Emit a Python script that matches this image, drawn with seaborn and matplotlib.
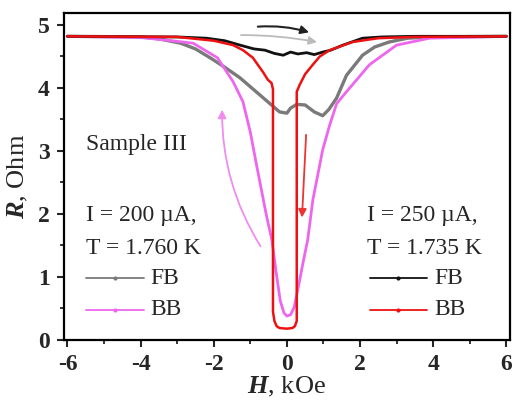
import numpy as np
import pandas as pd
import seaborn as sns
import matplotlib.pyplot as plt
from matplotlib.ticker import MultipleLocator

# ==================== data ====================
# I = 200 uA, T = 1.760 K, forward branch (gray)
h_fb200 = [-6, -4, -3.5, -2.9, -2.5, -2.1, -1.7, -1.28, -0.74, -0.4, -0.2, 0.0, 0.1, 0.27,
           0.5, 0.75, 0.98, 1.15, 1.36, 1.63, 2.07, 2.4, 2.8, 3.3, 4, 6]
r_fb200 = [4.82, 4.81, 4.78, 4.71, 4.62, 4.48, 4.33, 4.16, 3.89, 3.72, 3.62, 3.6, 3.68, 3.74,
           3.73, 3.62, 3.56, 3.66, 3.84, 4.2, 4.52, 4.65, 4.73, 4.79, 4.81, 4.82]

# I = 200 uA, back branch (magenta)
h_bb200 = [-6, -4, -3.3, -2.56, -1.9, -1.47, -1.2, -1.0, -0.82, -0.55, -0.41, -0.3, -0.18, -0.08, 0.0,
           0.1, 0.2, 0.3, 0.45, 0.57, 0.71, 0.98, 1.17, 1.36, 1.63, 2.26, 3.0, 3.9, 6]
r_bb200 = [4.82, 4.8, 4.76, 4.71, 4.48, 4.1, 3.78, 3.3, 2.75, 1.95, 1.59, 1.1, 0.62, 0.43, 0.38,
           0.4, 0.52, 0.8, 1.25, 1.59, 2.22, 3.02, 3.41, 3.75, 3.94, 4.37, 4.68, 4.79, 4.82]

# I = 250 uA, T = 1.735 K, forward branch (black)
h_fb250 = [-6, -3, -2.2, -1.7, -1.28, -0.9, -0.6, -0.35, -0.1, 0.1, 0.3, 0.54, 0.75, 0.98,
           1.2, 1.53, 2.07, 2.6, 3.5, 6]
r_fb250 = [4.82, 4.81, 4.79, 4.75, 4.68, 4.62, 4.6, 4.55, 4.52, 4.57, 4.54, 4.56, 4.53, 4.57,
           4.6, 4.68, 4.79, 4.81, 4.82, 4.82]

# I = 250 uA, back branch (red) -- hysteretic jumps near zero field
h_bb250 = [-6, -3, -2.0, -1.47, -1.2, -0.93, -0.65, -0.52, -0.42, -0.38, -0.38, -0.34, -0.28,
           -0.2, 0.0, 0.15, 0.22, 0.27, 0.27, 0.35, 0.5, 0.71, 0.9, 1.17, 1.8, 2.5, 3.5, 6]
r_bb250 = [4.82, 4.81, 4.75, 4.68, 4.6, 4.48, 4.25, 4.13, 4.08, 3.98, 0.45, 0.3, 0.22,
           0.19, 0.18, 0.19, 0.22, 0.3, 3.94, 4.05, 4.22, 4.37, 4.5, 4.6, 4.73, 4.79, 4.81, 4.82]

curves = [
    (h_fb200, r_fb200, "#7a7a7a", 2.4),
    (h_bb200, r_bb200, "#ee66ee", 2.0),
    (h_fb250, r_fb250, "#111111", 2.0),
    (h_bb250, r_bb250, "#ee1111", 1.8),
]

# ==================== style ====================
sns.set_style("ticks")
plt.rcParams['font.family'] = ['Liberation Serif', 'DejaVu Serif']
plt.rcParams['mathtext.fontset'] = 'custom'
plt.rcParams['mathtext.rm'] = 'Liberation Serif'
plt.rcParams['mathtext.it'] = 'Liberation Serif:italic'
plt.rcParams['mathtext.bf'] = 'Liberation Serif:bold'
plt.rcParams['mathtext.bfit'] = 'Liberation Serif:italic:bold'
plt.rcParams['axes.unicode_minus'] = False

fig = plt.figure(figsize=(5.23, 4.0), dpi=100)
ax = fig.add_axes([0.122, 0.15, 0.853, 0.8175])

for h, r, c, lw in curves:
    df = pd.DataFrame({"H": h, "R": r})
    sns.lineplot(data=df, x="H", y="R", sort=False, estimator=None,
                 color=c, lw=lw, ax=ax)

# arrows showing sweep direction
arrow_kw = dict(arrowstyle="-|>", mutation_scale=12)
ax.annotate("", xy=(0.68, 4.87), xytext=(-0.87, 4.97),
            arrowprops=dict(color="#222222", lw=1.5, connectionstyle="arc3,rad=-0.1", **arrow_kw))
ax.annotate("", xy=(0.9, 4.72), xytext=(-1.33, 4.84),
            arrowprops=dict(color="#bbbbbb", lw=1.3, connectionstyle="arc3,rad=-0.05", **arrow_kw))
ax.annotate("", xy=(-1.77, 3.7), xytext=(-0.68, 1.45),
            arrowprops=dict(color="#f08cf0", lw=1.3, connectionstyle="arc3,rad=-0.15", **arrow_kw))
ax.annotate("", xy=(0.41, 1.9), xytext=(0.53, 3.3),
            arrowprops=dict(color="#ee3333", lw=1.3, **arrow_kw))

# in-plot labels and legend-like keys
fs = 17
ax.text(-5.5, 3.1, "Sample III", fontsize=fs, va="center")
ax.text(-5.5, 1.98, "I = 200 µA,", fontsize=fs, va="center")
ax.text(-5.5, 1.46, "T = 1.760 K", fontsize=fs, va="center")
ax.text(2.2, 1.98, "I = 250 µA,", fontsize=fs, va="center")
ax.text(2.2, 1.46, "T = 1.735 K", fontsize=fs, va="center")

keys = [
    (-5.5, -3.92, 0.98, "#7a7a7a", "FB"),
    (-5.5, -3.92, 0.48, "#ee66ee", "BB"),
    (2.26, 3.84, 0.98, "#111111", "FB"),
    (2.26, 3.84, 0.48, "#ee1111", "BB"),
]
for x0, x1, y, c, lab in keys:
    ax.plot([x0, x1], [y, y], color=c, lw=1.3)
    ax.plot([(x0 + x1) / 2], [y], marker="o", ms=2, color=c)
    ax.text(x1 + 0.2, y, lab, fontsize=fs, va="center")

# axes
ax.set_xlim(-6.1, 6.1)
ax.set_ylim(0, 5.19)
ax.xaxis.set_major_locator(MultipleLocator(2))
ax.xaxis.set_minor_locator(MultipleLocator(1))
ax.yaxis.set_major_locator(MultipleLocator(1))
ax.yaxis.set_minor_locator(MultipleLocator(0.5))
ax.tick_params(which="major", direction="out", length=5, width=1.5, labelsize=17, pad=5)
ax.tick_params(which="minor", direction="out", length=3, width=1.3)
for lab in ax.get_xticklabels() + ax.get_yticklabels():
    lab.set_fontweight("bold")
for sp in ax.spines.values():
    sp.set_visible(True)
    sp.set_linewidth(1.6)
    sp.set_color("black")

ax.set_xlabel(r"$\mathbfit{H}$, kOe", fontsize=19, labelpad=0)
ax.set_ylabel(r"$\mathbfit{R}$, Ohm", fontsize=19, labelpad=6)

fig.savefig("out.png", dpi=100)
